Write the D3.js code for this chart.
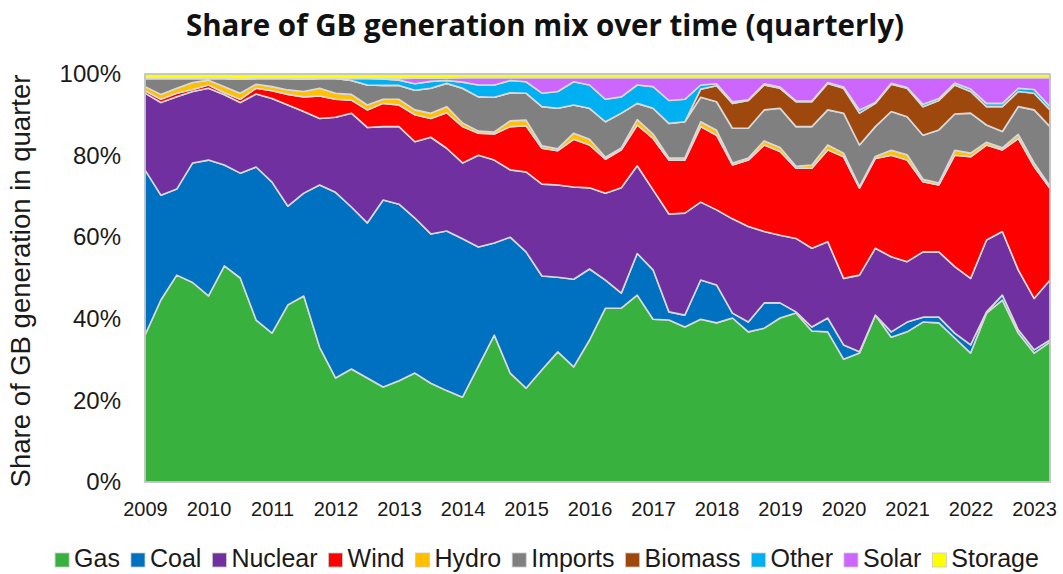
<!DOCTYPE html>
<html>
<head>
<meta charset="utf-8">
<script src="https://cdn.jsdelivr.net/npm/d3@7"></script>
<style>
  body { margin: 0; background: #fff; }
  svg { display: block; }
</style>
</head>
<body>
<svg id="chart" width="1063" height="574"></svg>
<script>
"use strict";

/******************
*** CHART DATA ***
******************/

// one entry per quarter, 2009 Q1 .. 2023 Q2
var quarters = [
  "2009Q1","2009Q2","2009Q3","2009Q4","2010Q1","2010Q2","2010Q3","2010Q4",
  "2011Q1","2011Q2","2011Q3","2011Q4","2012Q1","2012Q2","2012Q3","2012Q4",
  "2013Q1","2013Q2","2013Q3","2013Q4","2014Q1","2014Q2","2014Q3","2014Q4",
  "2015Q1","2015Q2","2015Q3","2015Q4","2016Q1","2016Q2","2016Q3","2016Q4",
  "2017Q1","2017Q2","2017Q3","2017Q4","2018Q1","2018Q2","2018Q3","2018Q4",
  "2019Q1","2019Q2","2019Q3","2019Q4","2020Q1","2020Q2","2020Q3","2020Q4",
  "2021Q1","2021Q2","2021Q3","2021Q4","2022Q1","2022Q2","2022Q3","2022Q4",
  "2023Q1","2023Q2"
];

var yearLabels = ["2009","2010","2011","2012","2013","2014","2015","2016",
                  "2017","2018","2019","2020","2021","2022","2023"];

var yTicks = [0, 0.2, 0.4, 0.6, 0.8, 1];

// share of generation in each quarter, %
var gas = [36,44.6,50.7,48.9,45.6,53,50,39.7,36.5,43.4,45.6,33,25.5,27.7,25.5,23.3,
  24.8,26.7,24.2,22.4,20.8,28.4,36,26.7,23,27.5,31.9,28.2,34.8,42.6,42.6,45.8,
  39.9,39.7,38,39.9,39,40.2,36.8,37.7,40.2,41.4,37,36.8,30.1,31.6,40.9,35.5,
  36.8,39.2,39,35.3,31.6,41.4,44.6,36.5,31.6,34.3];
var coal = [40.5,25.7,21.1,29.3,33.3,24.7,25.7,37.5,37,24.2,25.2,39.8,45.5,39.7,38,45.8,
  43.3,38,36.6,39.1,38.8,29.2,22.6,33.3,33.4,23,18.3,21.5,17.4,6.9,3.7,10.2,
  12.1,2,2.9,9.6,9.3,1.2,2.4,6.2,3.7,0.3,1,3.4,3.5,0.3,0,1.3,
  2.4,1.2,1.4,1.2,2,0.3,1.2,0.8,0.8,0.5];
var nuclear = [18.8,22.7,22.6,17.5,17.6,17.2,17.3,17.9,20.5,24.8,20,16.3,18.4,23,23.4,18,
  19,18.7,23.7,20.3,18.6,22.5,20.3,16.5,19.6,22.5,22.6,22.6,19.9,21.3,25.8,21.5,
  19.6,24,25,19.1,18.4,23.1,23.4,17.5,16.6,18,19.3,18.7,16.3,18.8,16.4,18.4,
  14.8,16,16,16.3,16.3,17.6,15.6,14.7,12.6,14.7];
var wind = [0.6,0.8,0.9,0.5,0.8,0.5,0.8,1.4,1.9,2.6,3.6,5.5,4.4,3.2,4.3,5.7,
  5.3,6.6,4.6,8.7,8.9,5.4,6.4,10.6,11.3,8.8,8.4,11.7,10.5,8.3,9.3,10,
  12.6,13.2,13,18.5,18.3,13.2,16.3,21.2,20.5,17.2,19.6,22.5,29.8,21.3,22,24.9,
  24.9,17.2,16.4,27.3,29.8,23.3,20,32.2,32.3,22.5];
var hydro = [1,1.2,1.2,1.7,1.2,1.5,1.5,1,1,1.1,1.3,1.9,1.5,1.4,1.2,1,
  1.4,1.2,1.3,1.5,0.9,0.5,0.5,1.4,1.4,0.6,0.5,1.5,1.4,0.5,0.5,1.3,
  1.1,0.5,0.5,1.2,1.2,0.5,0.5,1,1,0.5,0.8,1.2,0.9,0.4,0.5,1.2,
  1.3,0.6,0.5,1.2,0.9,0.7,0.5,1,0.9,0.5];
var imports = [2,3.9,2.4,1,0.5,2,3.4,1.4,2,2.8,3.1,2.4,3.6,3.4,4.9,3.4,
  3.4,4.8,6.1,5.7,8.5,8.4,8.5,6.9,6.6,9.6,9.9,6.9,7.6,8.7,8.5,4,
  6.3,8.5,8.9,6,7,8.5,7.3,7.6,9.6,9.7,9.4,8.6,9.8,10.2,7.3,9.5,
  9.3,10.8,13,8.9,9.8,4.2,4,6.8,13,14.6];
var biomass = [0,0,0,0,0,0,0,0,0,0,0,0,0,0,0,0,
  0,0,0,0,0,0,0,0,0,0,0,0,0,0,0,0,
  0,0,0,2,3.9,6.1,6.8,6.1,4.9,6.1,6.1,6.5,6.1,7.8,5.7,6.7,
  7,7,7.2,7.1,5.3,4.5,6.1,3.7,4.1,4.1];
var other = [0,0,0,0,0,0,0,0,0,0,0,0,0,0.5,1.6,1.6,
  1.3,1.6,1.7,0.7,1.5,2.9,3,3,2.8,3.3,4.1,5.7,5.7,5.5,4,4.5,
  5.3,5.6,5.5,1,0.5,0.4,0.2,0.3,0.3,0.2,0.2,0.2,0.3,0.8,0.2,0.2,
  0.2,0.6,0.5,0.5,0.6,0.8,0.8,0.8,0.9,0.8];
var solar = [0,0,0,0,0,0,0,0,0,0,0,0,0,0,0,0.1,
  0.4,1.4,0.8,0.6,1.1,1.8,1.8,0.7,1,3.8,3.4,1,1.8,5.3,4.7,1.8,
  2.2,5.6,5.3,1.8,1.5,5.9,5.4,1.5,2.3,5.7,5.7,1.2,2.3,7.9,6.1,1.4,
  2.4,6.5,5.1,1.3,2.8,6.3,6.3,2.6,2.9,7.1];
var storage = [1.1,1.1,1.1,1.1,1,1.1,1.3,1.1,1.1,1.1,1.2,1.1,1.1,1.1,1.1,1.1,
  1.1,1,1,1,0.9,0.9,0.9,0.9,0.9,0.9,0.9,0.9,0.9,0.9,0.9,0.9,
  0.9,0.9,0.9,0.9,0.9,0.9,0.9,0.9,0.9,0.9,0.9,0.9,0.9,0.9,0.9,0.9,
  0.9,0.9,0.9,0.9,0.9,0.9,0.9,0.9,0.9,0.9];

var seriesNames = ["Gas", "Coal", "Nuclear", "Wind", "Hydro", "Imports",
                   "Biomass", "Other", "Solar", "Storage"];
var seriesColors = ["#39b13f", "#0070c0", "#7030a0", "#ff0000", "#ffc000",
                    "#808080", "#9e480e", "#00b0f0", "#cc66ff", "#ffff00"];
var seriesValues = [gas, coal, nuclear, wind, hydro, imports,
                    biomass, other, solar, storage];


/*******************
*** BUILD CHART ***
*******************/

var svg = d3.select("#chart");

var plot = { left: 145, right: 1050, top: 74, bottom: 482 };

// rows for d3.stack, values turned into fractions
var rows = quarters.map(function(q, i) {
    var row = { quarter: q };
    seriesNames.forEach(function(name, k) { row[name] = seriesValues[k][i] / 100; });
    return row;
});

var stacked = d3.stack().keys(seriesNames)(rows);

var x = d3.scalePoint().domain(quarters).range([plot.left, plot.right]);
var y = d3.scaleLinear().domain([0, 1]).range([plot.bottom, plot.top]);

var color = d3.scaleOrdinal().domain(seriesNames).range(seriesColors);

var area = d3.area()
  .x(function(d) { return x(d.data.quarter); })
  .y0(function(d) { return y(d[0]); })
  .y1(function(d) { return y(d[1]); });

//stacked areas, gas at the bottom
svg.append("g")
  .selectAll("path")
  .data(stacked)
  .enter()
  .append("path")
  .attr("d", area)
  .attr("fill", function(d) { return color(d.key); })
  .attr("stroke", "#d9d9d9")
  .attr("stroke-width", 1.6)
  .attr("stroke-linejoin", "round");

//plot area border
svg.append("rect")
  .attr("x", plot.left)
  .attr("y", plot.top)
  .attr("width", plot.right - plot.left)
  .attr("height", plot.bottom - plot.top)
  .attr("fill", "none")
  .attr("stroke", "#bfbfbf")
  .attr("stroke-width", 1.5);

//x axis - one label per year, on the Q1 point
var xAxis = d3.axisBottom(x)
  .tickValues(yearLabels.map(function(yr) { return yr + "Q1"; }))
  .tickFormat(function(q) { return q.slice(0, 4); })
  .tickSize(0)
  .tickPadding(20);

svg.append("g")
  .attr("transform", "translate(0," + plot.bottom + ")")
  .call(xAxis)
  .call(function(g) { g.select(".domain").remove(); })
  .selectAll("text")
  .attr("font-family", "'Liberation Sans', Arial, sans-serif")
  .attr("font-size", "20px")
  .attr("fill", "#1a1a1a");

//y axis
var yAxis = d3.axisLeft(y)
  .tickValues(yTicks)
  .tickFormat(d3.format(".0%"))
  .tickSize(0)
  .tickPadding(24);

svg.append("g")
  .attr("transform", "translate(" + plot.left + ",0)")
  .call(yAxis)
  .call(function(g) { g.select(".domain").remove(); })
  .selectAll("text")
  .attr("font-family", "'Liberation Sans', Arial, sans-serif")
  .attr("font-size", "24px")
  .attr("fill", "#1a1a1a");

//y axis title
svg.append("text")
  .attr("transform", "translate(30,281) rotate(-90)")
  .attr("text-anchor", "middle")
  .attr("font-family", "'Liberation Sans', Arial, sans-serif")
  .attr("font-size", "27.5px")
  .attr("fill", "#1a1a1a")
  .text("Share of GB generation in quarter");

//chart title
svg.append("text")
  .attr("x", 545)
  .attr("y", 36)
  .attr("text-anchor", "middle")
  .attr("font-family", "'Open Sans', sans-serif")
  .attr("font-weight", "bold")
  .attr("font-size", "29.5px")
  .attr("fill", "#111")
  .text("Share of GB generation mix over time (quarterly)");

//legend, laid out from measured text widths and centred
var legend = svg.append("g");
var cursor = 0;
seriesNames.forEach(function(name, k) {
    var item = legend.append("g").attr("transform", "translate(" + cursor + ",0)");
    item.append("rect")
      .attr("x", 0).attr("y", -14)
      .attr("width", 14).attr("height", 14)
      .attr("fill", seriesColors[k])
      .attr("stroke", "#c8c8c8")
      .attr("stroke-width", 0.8);
    var label = item.append("text")
      .attr("x", 19)
      .attr("y", 0)
      .attr("font-family", "'Liberation Sans', Arial, sans-serif")
      .attr("font-size", "25px")
      .attr("fill", "#1a1a1a")
      .text(name);
    cursor += 19 + label.node().getComputedTextLength() + 11;
});
cursor -= 11;
legend.attr("transform", "translate(" + (547 - cursor / 2) + ",567)");
</script>
</body>
</html>
